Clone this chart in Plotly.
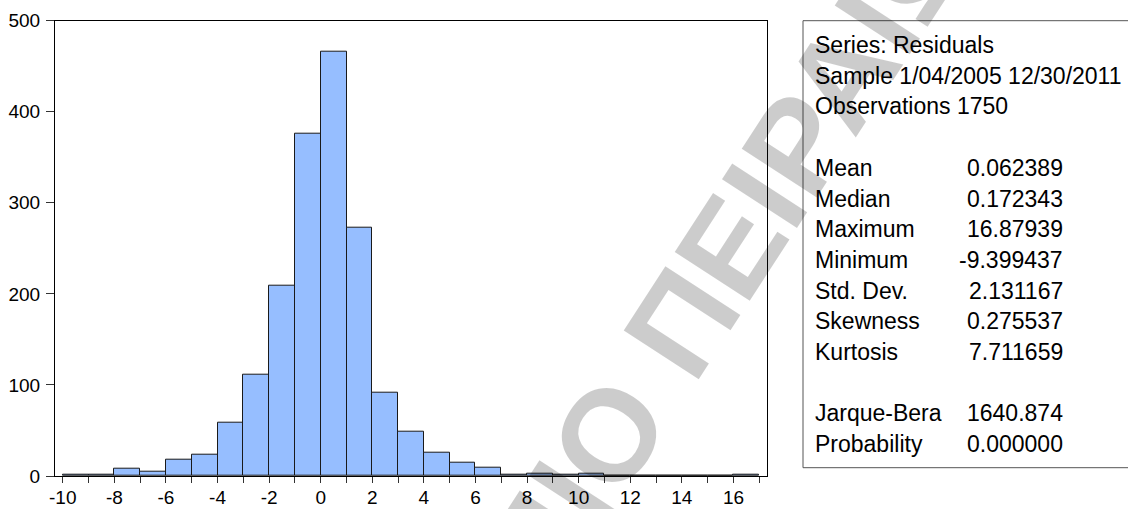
import plotly.graph_objects as go

# Histogram of residuals: unit-width bins from -10 to 17
bin_left = list(range(-10, 17))
counts = [1, 1, 8, 5, 18, 23, 59, 111, 209, 376, 466, 273, 92, 49, 26, 15, 9,
          1, 3, 1, 3, 0, 0, 0, 0, 0, 1]

# Descriptive statistics panel
header_lines = ["Series: Residuals", "Sample 1/04/2005 12/30/2011", "Observations 1750"]
stat_names = ["Mean", "Median", "Maximum", "Minimum", "Std. Dev.", "Skewness", "Kurtosis"]
stat_values = ["0.062389", "0.172343", "16.87939", "-9.399437", "2.131167", "0.275537", "7.711659"]
test_names = ["Jarque-Bera", "Probability"]
test_values = ["1640.874", "0.000000"]

x_ticks = list(range(-10, 18))
x_ticktext = [str(v) if v % 2 == 0 else "" for v in x_ticks]
y_ticks = [0, 100, 200, 300, 400, 500]

W, H = 1128, 509
FONT = "Liberation Sans, Arial, Helvetica, sans-serif"


def px_x(p):
    return p / W


def px_y(p):
    return 1 - p / H


fig = go.Figure()
fig.add_trace(go.Bar(
    x=[b + 0.5 for b in bin_left],
    y=counts,
    width=1,
    marker=dict(color="#96BEFF", line=dict(color="#1a1a1a", width=1)),
    showlegend=False,
))

fig.update_layout(
    width=W, height=H,
    margin=dict(l=0, r=0, t=0, b=0),
    paper_bgcolor="white", plot_bgcolor="white",
    font=dict(family=FONT, color="black"),
    bargap=0,
    xaxis=dict(
        domain=[px_x(55), px_x(767)],
        range=[-10.3, 17.3],
        tickvals=x_ticks, ticktext=x_ticktext,
        ticks="outside", ticklen=6, tickcolor="#333", tickwidth=1,
        showline=True, linecolor="black", linewidth=1, mirror=True,
        showgrid=False, zeroline=False, automargin=False,
        tickfont=dict(size=19), ticklabelstandoff=-2,
    ),
    yaxis=dict(
        domain=[px_y(476), px_y(20.7)],
        range=[0, 500],
        tickvals=y_ticks,
        ticks="outside", ticklen=8, tickcolor="#333", tickwidth=1,
        showline=True, linecolor="black", linewidth=1, mirror=True,
        showgrid=False, zeroline=False, automargin=False,
        tickfont=dict(size=19), ticklabelstandoff=2,
    ),
)

# Statistics box
fig.add_shape(type="rect", xref="paper", yref="paper",
              x0=px_x(803), x1=px_x(1140), y0=px_y(467.7), y1=px_y(20.7),
              line=dict(color="#555", width=1), fillcolor="rgba(0,0,0,0)")

row_y0, row_step = 45, 30.7
text_x, value_x = 813, 1065
fs = 23


def row_y(i):
    return px_y(row_y0 + row_step * i)


def stat_text(i, text, x, anchor):
    fig.add_annotation(x=px_x(x), y=row_y(i), xref="paper", yref="paper",
                       text=text, showarrow=False, xanchor=anchor, yanchor="middle",
                       font=dict(size=fs))


for i, t in enumerate(header_lines):
    stat_text(i, t, text_x, "left")

for j, (n, v) in enumerate(zip(stat_names, stat_values)):
    stat_text(4 + j, n, text_x, "left")
    stat_text(4 + j, v, value_x, "right")

for j, (n, v) in enumerate(zip(test_names, test_values)):
    stat_text(12 + j, n, text_x, "left")
    stat_text(12 + j, v, value_x, "right")

# Diagonal watermark
fig.add_annotation(x=px_x(540), y=px_y(541), xref="paper", yref="paper",
                   text="<b>ΠΑΝΕΠΙΣΤΗΜΙΟ ΠΕΙΡΑΙΩΣ</b>", showarrow=False,
                   textangle=-57, xanchor="center", yanchor="middle",
                   font=dict(size=130, color="rgba(0,0,0,0.2)", family=FONT))

fig.write_html("out.html")
